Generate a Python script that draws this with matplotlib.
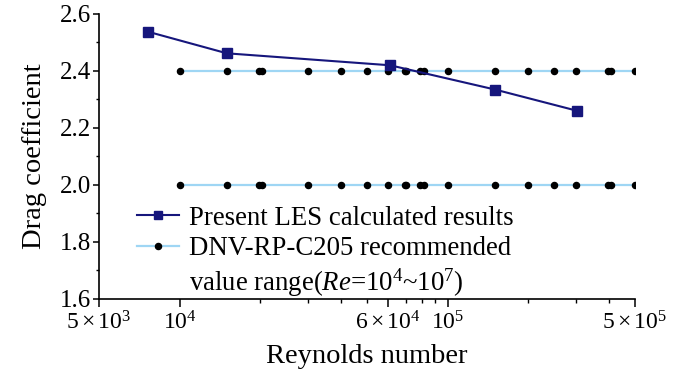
import numpy as np
import matplotlib
matplotlib.use("Agg")
from matplotlib import pyplot as plt
from matplotlib.lines import Line2D
from matplotlib.ticker import FixedLocator, FixedFormatter, MultipleLocator

plt.rcParams["font.family"] = ["Liberation Serif", "DejaVu Serif"]
plt.rcParams["mathtext.fontset"] = "custom"
plt.rcParams["mathtext.rm"] = "Liberation Serif"
plt.rcParams["mathtext.it"] = "Liberation Serif:italic"

# LES results
les_re = [7.6e3, 1.5e4, 6.1e4, 1.5e5, 3.05e5]
les_cd = [2.538, 2.462, 2.42, 2.335, 2.26]

# DNV-RP-C205 recommended band (upper and lower bound)
dnv_re = [1e4, 1.5e4, 1.97e4, 2.03e4, 3e4, 4e4, 5e4, 6e4, 6.9e4, 7.0e4,
          7.9e4, 8.15e4, 1e5, 1.5e5, 2e5, 2.5e5, 3e5, 3.95e5, 4.07e5, 5e5]
dnv_upper = [2.4] * len(dnv_re)
dnv_lower = [2.0] * len(dnv_re)

xticks = [5e3, 1e4, 6e4, 1e5, 5e5]
xtick_labels = [r"$5\times10^{3}$", r"$10^{4}$", r"$6\times10^{4}$",
                r"$10^{5}$", r"$5\times10^{5}$"]
xminor = [2e4, 3e4, 4e4, 5e4, 7e4, 8e4, 9e4, 2e5, 3e5, 4e5]

navy = "#16167c"
sky = "#9fd6f4"

fig = plt.figure(figsize=(6.81, 3.76), dpi=100)
ax = fig.add_axes([0.1454, 0.2048, 0.7871, 0.758])

ax.plot(dnv_re, dnv_upper, color=sky, lw=1.6, marker="o", ms=4.4,
        mfc="black", mec="black", zorder=2)
ax.plot(dnv_re, dnv_lower, color=sky, lw=1.6, marker="o", ms=4.4,
        mfc="black", mec="black", zorder=2)
ax.plot(les_re, les_cd, color=navy, lw=1.5, marker="s", ms=6.5,
        mfc=navy, mec=navy, zorder=3)

ax.set_xscale("log")
ax.set_xlim(5e3, 5e5)
ax.set_ylim(1.6, 2.6)
ax.xaxis.set_major_locator(FixedLocator(xticks))
ax.xaxis.set_major_formatter(FixedFormatter(xtick_labels))
ax.xaxis.set_minor_locator(FixedLocator(xminor))
ax.xaxis.set_minor_formatter(FixedFormatter([""] * len(xminor)))
ax.yaxis.set_major_locator(MultipleLocator(0.2))
ax.yaxis.set_minor_locator(MultipleLocator(0.1))
ax.yaxis.set_major_formatter(lambda v, p: f"{v:.1f}")

for side in ("top", "right"):
    ax.spines[side].set_visible(False)
for side in ("left", "bottom"):
    ax.spines[side].set_linewidth(1.2)

ax.tick_params(axis="x", which="major", length=6, width=1.1, pad=3, labelsize=17)
ax.tick_params(axis="x", which="minor", length=3, width=1.0)
ax.tick_params(axis="y", which="major", length=4, width=1.1, pad=2, labelsize=18)
ax.tick_params(axis="y", which="minor", length=2.5, width=1.0)

ax.set_xlabel("Reynolds number", fontsize=20.5, labelpad=7)
ax.set_ylabel("Drag coefficient", fontsize=20.5, labelpad=9)

handles = [
    Line2D([], [], color=navy, lw=1.5, marker="s", ms=6, mfc=navy, mec=navy),
    Line2D([], [], color=sky, lw=1.6, marker="o", ms=4.4, mfc="black", mec="black"),
    Line2D([], [], color="none"),
]
labels = [
    "Present LES calculated results",
    "DNV-RP-C205 recommended",
    r"value range($\mathit{Re}$=10$^{4}$~10$^{7}$)",
]
ax.legend(handles, labels, loc="lower left", bbox_to_anchor=(0.07, 0.0),
          frameon=False, fontsize=19.3, handlelength=1.6, handletextpad=0.34,
          labelspacing=0.2, borderaxespad=0, borderpad=0)

fig.savefig("out.png", dpi=100)
